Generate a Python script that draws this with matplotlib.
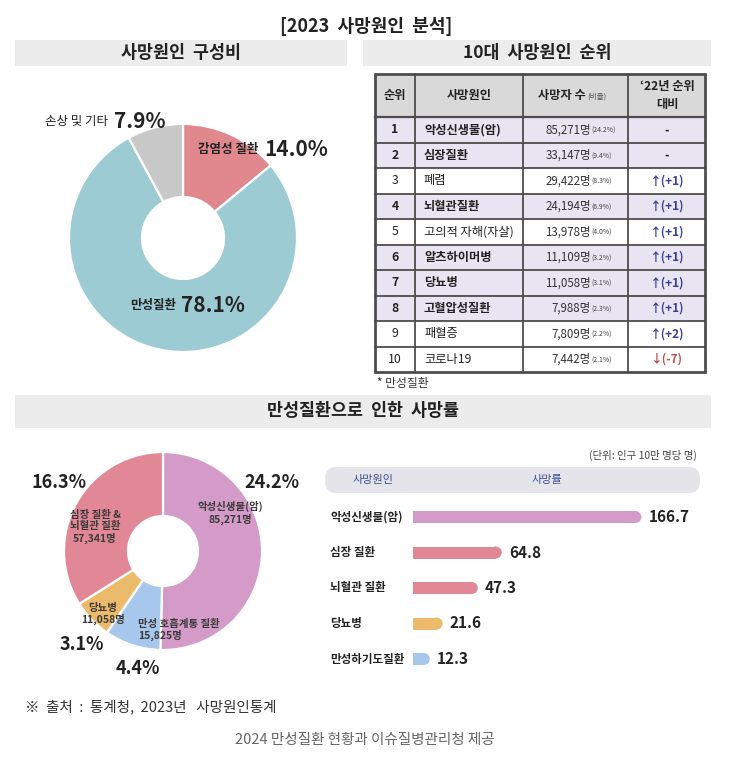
import matplotlib
matplotlib.use('Agg')
import matplotlib.pyplot as plt
from matplotlib.patches import Rectangle, FancyBboxPatch

plt.rcParams['font.family'] = ['Noto Sans CJK KR', 'DejaVu Sans']

# ---------------- data ----------------
comp_labels = ['감염성 질환', '만성질환', '손상 및 기타']
comp_values = [14.0, 78.1, 7.9]
comp_colors = ['#e1888f', '#9dcbd3', '#c8c8c8']

rank_no = list(range(1, 11))
rank_causes = ['악성신생물(암)', '심장질환', '폐렴', '뇌혈관질환', '고의적 자해(자살)',
               '알츠하이머병', '당뇨병', '고혈압성질환', '패혈증', '코로나19']
rank_deaths = [85271, 33147, 29422, 24194, 13978, 11109, 11058, 7988, 7809, 7442]
rank_share = [24.2, 9.4, 8.3, 6.9, 4.0, 3.2, 3.1, 2.3, 2.2, 2.1]
rank_change = ['-', '-', '↑(+1)', '↑(+1)', '↑(+1)', '↑(+1)', '↑(+1)', '↑(+1)', '↑(+2)', '↓(-7)']
rank_chronic = [True, True, False, True, False, True, True, True, False, False]

chronic_labels = ['악성신생물(암)', '만성 호흡계통 질환', '당뇨병', '심장 질환 &\n뇌혈관 질환']
chronic_deaths = [85271, 15825, 11058, 57341]
chronic_pct = [24.2, 4.4, 3.1, 16.3]
chronic_colors = ['#d49bc9', '#a7c8ec', '#ecba6b', '#e28796']

rate_labels = ['악성신생물(암)', '심장 질환', '뇌혈관 질환', '당뇨병', '만성하기도질환']
rate_values = [166.7, 64.8, 47.3, 21.6, 12.3]
rate_colors = ['#d49bc9', '#e28796', '#e28796', '#ecba6b', '#a7c8ec']

# ---------------- figure ----------------
W, H = 734, 770
fig = plt.figure(figsize=(W / 100, H / 100), dpi=100)
bg = fig.add_axes([0, 0, 1, 1])
bg.set_xlim(0, W)
bg.set_ylim(H, 0)
bg.axis('off')
bg.set_zorder(5)


def px_axes(x0, y0, x1, y1):
    a = fig.add_axes([x0 / W, 1 - y1 / H, (x1 - x0) / W, (y1 - y0) / H])
    a.set_zorder(1)
    return a


DARK = '#222222'

# title & header bars
bg.text(366, 26, '[2023  사망원인  분석]', ha='center', va='center', fontsize=13,
        fontweight='bold', color=DARK)
for (x0, x1, y0, y1, t) in [(15, 347, 40, 66, '사망원인  구성비'),
                            (363, 711, 40, 66, '10대  사망원인  순위'),
                            (15, 711, 395, 428, '만성질환으로  인한  사망률')]:
    bg.add_patch(Rectangle((x0, y0), x1 - x0, y1 - y0, color='#ececec', lw=0, zorder=0))
    bg.text((x0 + x1) / 2, (y0 + y1) / 2, t, ha='center', va='center', fontsize=12.5,
            fontweight='bold', color=DARK)

# ---------------- top donut ----------------
cx, cy, R = 183, 238, 120
ax1 = px_axes(cx - R, cy - R, cx + R, cy + R)
ax1.pie(comp_values, colors=comp_colors, startangle=90, counterclock=False,
        radius=114 / R, wedgeprops=dict(width=(114 - 41) / R, edgecolor='white', linewidth=1.6))
ax1.set_xlim(-1, 1)
ax1.set_ylim(-1, 1)
ax1.axis('off')

bg.text(258, 149, comp_labels[0], ha='right', va='center', fontsize=9, fontweight='bold', color=DARK)
bg.text(264, 149, f'{comp_values[0]:.1f}%', ha='left', va='center', fontsize=15, fontweight='bold', color=DARK)
bg.text(176, 306, comp_labels[1], ha='right', va='center', fontsize=9, fontweight='bold', color=DARK)
bg.text(181, 306, f'{comp_values[1]:.1f}%', ha='left', va='center', fontsize=15, fontweight='bold', color=DARK)
bg.text(108, 121, comp_labels[2], ha='right', va='center', fontsize=9, color=DARK)
bg.text(114, 121, f'{comp_values[2]:.1f}%', ha='left', va='center', fontsize=15, fontweight='bold', color=DARK)

# ---------------- table ----------------
cols = [375, 415, 523, 628, 705]
ytop, yhead = 74, 117
rh = 25.5
ybot = yhead + rh * len(rank_no)
bg.add_patch(Rectangle((cols[0], ytop), cols[-1] - cols[0], yhead - ytop, color='#d9d9d9', lw=0, zorder=1))
for i, chronic in enumerate(rank_chronic):
    y0 = yhead + i * rh
    bg.add_patch(Rectangle((cols[0], y0), cols[-1] - cols[0], rh,
                           color='#e8e4f1' if chronic else 'white', lw=0, zorder=1))
LC = '#4d4d4d'
for x in cols[1:-1]:
    bg.plot([x, x], [ytop, ybot], color=LC, lw=1.3, zorder=2)
for i in range(1, len(rank_no)):
    y = yhead + i * rh
    bg.plot([cols[0], cols[-1]], [y, y], color=LC, lw=1.3, zorder=2)
bg.plot([cols[0], cols[-1]], [yhead, yhead], color=LC, lw=1.6, zorder=2)
bg.add_patch(Rectangle((cols[0], ytop), cols[-1] - cols[0], ybot - ytop, fill=False,
                       edgecolor=LC, lw=2.0, zorder=3))

hy = (ytop + yhead) / 2
bg.text(395, hy, '순위', ha='center', va='center', fontsize=8.8, fontweight='bold', color=DARK, zorder=4)
bg.text(469, hy, '사망원인', ha='center', va='center', fontsize=8.8, fontweight='bold', color=DARK, zorder=4)
bg.text(586, hy, '사망자 수', ha='right', va='center', fontsize=8.8, fontweight='bold', color=DARK, zorder=4)
bg.text(587, hy + 1, '(비율)', ha='left', va='center', fontsize=5.5, color='#555555', zorder=4)
bg.text(667, hy - 9, '‘22년 순위', ha='center', va='center', fontsize=8.8, fontweight='bold', color=DARK, zorder=4)
bg.text(667, hy + 9, '대비', ha='center', va='center', fontsize=8.8, fontweight='bold', color=DARK, zorder=4)

for i in range(len(rank_no)):
    y = yhead + (i + 0.5) * rh
    w = 'bold' if rank_chronic[i] else 'normal'
    bg.text(395, y, str(rank_no[i]), ha='center', va='center', fontsize=8.8, fontweight=w, color=DARK, zorder=4)
    bg.text(424, y, rank_causes[i], ha='left', va='center', fontsize=8.8, fontweight=w, color=DARK, zorder=4)
    bg.text(591, y, f'{rank_deaths[i]:,}명', ha='right', va='center', fontsize=8.3, color='#333333', zorder=4)
    bg.text(591, y + 1, f'({rank_share[i]:.1f}%)', ha='left', va='center', fontsize=5, color='#444444', zorder=4)
    ch = rank_change[i]
    col = '#c0504d' if ch.startswith('↓') else ('#3b3f9a' if ch.startswith('↑') else DARK)
    bg.text(667, y, ch, ha='center', va='center', fontsize=8.5, fontweight='bold', color=col, zorder=4)

bg.text(377, 383, '* 만성질환', ha='left', va='center', fontsize=8.5, color='#333333')

# ---------------- bottom donut ----------------
cx2, cy2, R2 = 163, 551, 110
ax2 = px_axes(cx2 - R2, cy2 - R2, cx2 + R2, cy2 + R2)
ax2.pie(chronic_pct, colors=chronic_colors, startangle=90, counterclock=False,
        radius=99 / R2, wedgeprops=dict(width=(99 - 35) / R2, edgecolor='white', linewidth=1.6))
ax2.set_xlim(-1, 1)
ax2.set_ylim(-1, 1)
ax2.axis('off')

pct_pos = [(272, 482), (138, 668), (82, 645), (59, 482)]
for (x, y), p in zip(pct_pos, chronic_pct):
    bg.text(x, y, f'{p:.1f}%', ha='center', va='center', fontsize=13, fontweight='bold', color=DARK)

IC = '#3a3a3a'
bg.text(230, 513, f'{chronic_labels[0]}\n{chronic_deaths[0]:,}명', ha='center', va='center',
        fontsize=7.5, fontweight='bold', color=IC, linespacing=1.15)
bg.text(95, 527, f'{chronic_labels[3]}\n{chronic_deaths[3]:,}명', ha='center', va='center',
        fontsize=7.5, fontweight='bold', color=IC, linespacing=1.15)
bg.text(103, 614, f'{chronic_labels[2]}\n{chronic_deaths[2]:,}명', ha='center', va='center',
        fontsize=7.5, fontweight='bold', color=IC, linespacing=1.15)
bg.text(138, 630, f'{chronic_labels[1]}\n{chronic_deaths[1]:,}명', ha='left', va='center',
        fontsize=7.5, fontweight='bold', color=IC, linespacing=1.15)

# ---------------- bar chart ----------------
bg.text(697, 455, '(단위: 인구 10만 명당 명)', ha='right', va='center', fontsize=7.5, color='#444444')
bg.add_patch(FancyBboxPatch((325, 467), 375, 26, boxstyle='round,pad=0,rounding_size=11',
                            color='#e4e4ea', lw=0))
bg.text(373, 480, '사망원인', ha='center', va='center', fontsize=8, color='#3d4f94')
bg.text(547, 480, '사망률', ha='center', va='center', fontsize=8, color='#3d4f94')

spacing = 35.5
n = len(rate_values)
bx0, bx1 = 413, 700
by0 = 517 - spacing / 2
by1 = by0 + spacing * n
ax3 = px_axes(bx0, by0, bx1, by1)
pxu = 1.37  # pixels per unit
ax3.set_xlim(0, (bx1 - bx0) / pxu)
ax3.set_ylim(n - 0.5, -0.5)
bh_px = 12
r_units = (bh_px / 2) / pxu
ys = list(range(n))
ax3.barh(ys, [max(v - r_units, 0) for v in rate_values], height=bh_px / spacing,
         color=rate_colors, lw=0)
ax3.scatter([max(v - r_units, 0) for v in rate_values], ys, s=(bh_px * 0.72) ** 2,
            color=rate_colors, marker='o', lw=0, zorder=3)
for yv, v in zip(ys, rate_values):
    ax3.text(v + 7 / pxu, yv, f'{v:.1f}', ha='left', va='center', fontsize=11,
             fontweight='bold', color=DARK)
ax3.axis('off')
for yv, lab in zip(ys, rate_labels):
    bg.text(330, 517 + yv * spacing, lab, ha='left', va='center', fontsize=8.3,
            fontweight='bold', color=DARK)

# ---------------- footer ----------------
bg.text(25, 707, '※  출처  :  통계청,  2023년   사망원인통계', ha='left', va='center', fontsize=10.5,
        color='#333333')
bg.text(365, 740, '2024 만성질환 현황과 이슈질병관리청 제공', ha='center', va='center',
        fontsize=10.5, color='#666666')

fig.savefig('out.png', dpi=100)
